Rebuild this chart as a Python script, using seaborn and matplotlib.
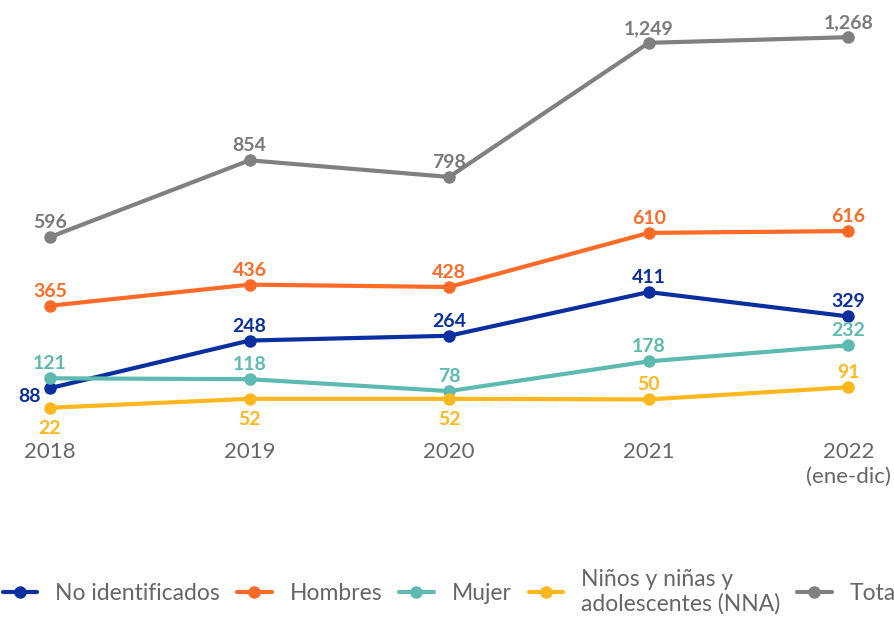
import matplotlib
matplotlib.use("Agg")
import matplotlib.pyplot as plt
import seaborn as sns
import pandas as pd

# Victims by year and group
years = ["2018", "2019", "2020", "2021", "2022\n(ene-dic)"]
no_identificados = [88, 248, 264, 411, 329]
hombres = [365, 436, 428, 610, 616]
mujer = [121, 118, 78, 178, 232]
nna = [22, 52, 52, 50, 91]
total = [596, 854, 798, 1249, 1268]

series_names = ["No identificados", "Hombres", "Mujer",
                "Niños y niñas y\nadolescentes (NNA)", "Total"]
series_values = [no_identificados, hombres, mujer, nna, total]
colors = ["#0a2f9e", "#ff6a26", "#5dbab0", "#ffb71e", "#808080"]
label_colors = ["#0a2f9e", "#ff6a26", "#5dbab0", "#ffb71e", "#7a7a7a"]

# label placement per series: +1 above the point, -1 below, 0 to the left
placement = [
    [0, 1, 1, 1, 1],
    [1, 1, 1, 1, 1],
    [1, 1, 1, 1, 1],
    [-1, -1, -1, 1, 1],
    [1, 1, 1, 1, 1],
]

rows = []
for name, vals in zip(series_names, series_values):
    for i, v in enumerate(vals):
        rows.append({"x": i, "valor": v, "serie": name})
df = pd.DataFrame(rows)

sns.set_theme(style="white")
plt.rcParams["font.family"] = ["Lato", "DejaVu Sans"]

fig = plt.figure(figsize=(8.94, 6.18), dpi=100)
ax = fig.add_axes([0, 1 - 425 / 618, 1, 425 / 618])

sns.lineplot(data=df, x="x", y="valor", hue="serie", hue_order=series_names,
             palette=colors, marker="o", markersize=9, markeredgewidth=0,
             linewidth=3, ax=ax, legend=True)

for si, (vals, col) in enumerate(zip(series_values, label_colors)):
    for i, v in enumerate(vals):
        p = placement[si][i]
        if p == 1:
            off, ha = (0, 6.5), "center"
        elif p == -1:
            off, ha = (0, -19), "center"
        else:
            off, ha = (-7, -10), "right"
        ax.annotate(f"{v:,}", (i, v), xytext=off, textcoords="offset points",
                    ha=ha, va="baseline", fontsize=14, fontweight="bold",
                    color=col)

ax.set_xlim(-0.2505, 4.229)
ax.set_ylim(-36, 1393)
ax.set_xticks(range(len(years)))
ax.set_xticklabels(years, fontsize=16, color="#666666", linespacing=1.3)
ax.tick_params(axis="x", length=0, pad=12)
ax.set_yticks([])
ax.set_xlabel("")
ax.set_ylabel("")
for s in ax.spines.values():
    s.set_visible(False)

handles, labels = ax.get_legend_handles_labels()
ax.get_legend().remove()
fig.legend(handles, labels, loc="center left",
           bbox_to_anchor=(3 / 894, 1 - 592 / 618), ncol=5, frameon=False,
           fontsize=16.5, labelcolor="#666666", handlelength=1.5,
           handletextpad=0.78, columnspacing=0.75, borderpad=0,
           borderaxespad=0)

fig.savefig("out.png", dpi=100)
